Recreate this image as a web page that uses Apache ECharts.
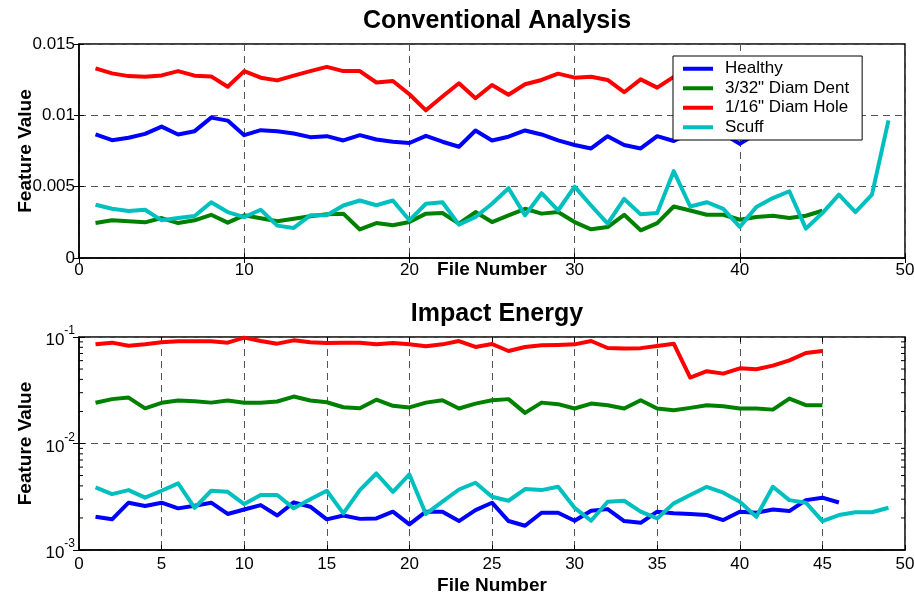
<!DOCTYPE html>
<html><head><meta charset="utf-8">
<script src="https://cdn.jsdelivr.net/npm/echarts@6/dist/echarts.min.js"></script>
<style>html,body{margin:0;padding:0;background:#fff}#c{width:915px;height:599px}</style>
</head><body><div id="c"></div>
<script>
// ---- Data ----
const seriesNames = ['Healthy', '3/32" Diam Dent', '1/16" Diam Hole', 'Scuff'];
const titles = ['Conventional Analysis', 'Impact Energy'];
const xTicksTop = [0, 10, 20, 30, 40, 50];
const xTicksBottom = [0, 5, 10, 15, 20, 25, 30, 35, 40, 45, 50];
const yTicksTop = [0, 0.005, 0.01, 0.015];
const yTicksBottom = [0.001, 0.01, 0.1];
const logMinorTicks = [0.002,0.003,0.004,0.005,0.006,0.007,0.008,0.009,0.02,0.03,0.04,0.05,0.06,0.07,0.08,0.09];

// Conventional Analysis (file numbers start at 1)
const healthyTop = [0.00866,0.00826,0.00843,0.0087,0.00921,0.00866,0.00889,0.00984,0.00963,0.00861,
  0.00896,0.00889,0.00873,0.00847,0.00854,0.00824,0.00861,0.00831,0.00815,0.00806,
  0.00856,0.00815,0.0078,0.00894,0.00824,0.0085,0.00894,0.00866,0.00824,0.00792,
  0.00768,0.00854,0.00792,0.00768,0.00854,0.0082,0.0088,0.0089,0.0087,0.0080,
  0.0087,0.0088,0.0086,0.0088,0.0087,0.0086];
const dentTop = [0.00245,0.00264,0.00257,0.0025,0.0028,0.00245,0.00264,0.00303,0.00248,0.00299,
  0.00278,0.00257,0.00275,0.00292,0.00306,0.00311,0.002,0.00245,0.00229,0.00252,
  0.00311,0.00315,0.00241,0.00322,0.00252,0.00299,0.00345,0.00311,0.00322,0.00252,
  0.00201,0.00217,0.00303,0.00194,0.00245,0.00361,0.00333,0.00303,0.00303,0.00268,
  0.00287,0.00296,0.0028,0.00296,0.00331];
const holeTop = [0.01329,0.01294,0.01275,0.01271,0.0128,0.0131,0.01278,0.01273,0.0120,0.0131,
  0.01264,0.01245,0.01278,0.0131,0.0134,0.0131,0.0131,0.0123,0.01241,0.01148,
  0.01035,0.01132,0.01225,0.0112,0.01213,0.01144,0.01218,0.01248,0.01292,0.01264,
  0.01271,0.01248,0.01162,0.01252,0.01194,0.0127,0.0125,0.0122,0.0127,0.0124,
  0.0121,0.0126,0.0123,0.0125,0.0122];
const scuffTop = [0.00373,0.00345,0.00329,0.00338,0.00264,0.0028,0.00294,0.00391,0.00322,0.00287,
  0.00338,0.00227,0.00211,0.00299,0.00299,0.00368,0.00403,0.0037,0.00403,0.00264,
  0.0038,0.00391,0.00234,0.00287,0.0038,0.00489,0.00299,0.00454,0.00333,0.005,
  0.00368,0.00241,0.00414,0.00306,0.00315,0.00609,0.00361,0.00391,0.00345,0.00218,
  0.00357,0.0042,0.00468,0.00206,0.00315,0.00444,0.00322,0.00444,0.00965];

// Impact Energy
const healthyBot = [0.00205,0.00194,0.00278,0.00259,0.00278,0.00246,0.0026,0.00278,0.00218,0.0024,
  0.00264,0.00211,0.0028,0.00255,0.00194,0.00211,0.00196,0.00198,0.00229,0.00174,
  0.00229,0.00229,0.00187,0.00237,0.00278,0.00187,0.00169,0.00224,0.00224,0.00188,
  0.00234,0.00242,0.00187,0.0018,0.00229,0.00221,0.00218,0.00213,0.00191,0.00229,
  0.00224,0.0024,0.00232,0.00294,0.0031,0.00279];
const dentBot = [0.0241,0.0261,0.027,0.0214,0.0241,0.0253,0.0249,0.0242,0.0253,0.0241,
  0.0241,0.0248,0.0276,0.0253,0.0244,0.0219,0.0214,0.0258,0.0226,0.0218,
  0.0242,0.0255,0.0213,0.0237,0.0255,0.0261,0.0194,0.0242,0.0234,0.0213,
  0.0237,0.0229,0.0213,0.0255,0.0213,0.0205,0.0216,0.0229,0.0224,0.0213,
  0.0213,0.0208,0.0264,0.0229,0.0229];
const holeBot = [0.0853,0.0885,0.0829,0.0853,0.0891,0.091,0.091,0.091,0.0885,0.0986,
  0.0917,0.0866,0.093,0.0891,0.0878,0.0885,0.0885,0.0853,0.0878,0.0853,
  0.0818,0.0853,0.0917,0.0806,0.086,0.0739,0.0806,0.0835,0.0841,0.0853,
  0.0917,0.0788,0.0778,0.0786,0.0823,0.0866,0.0416,0.0477,0.0453,0.0508,
  0.0498,0.0539,0.0604,0.0708,0.0739];
const scuffBot = [0.00387,0.00335,0.00365,0.0031,0.0036,0.00422,0.00249,0.0036,0.00352,0.0027,
  0.00328,0.00328,0.00246,0.00299,0.0036,0.00221,0.00365,0.00523,0.00352,0.00512,
  0.00218,0.00284,0.0037,0.00428,0.00316,0.0029,0.00373,0.00365,0.00392,0.00249,
  0.00188,0.00284,0.0029,0.00229,0.00198,0.00274,0.00328,0.00392,0.00345,0.00284,
  0.00205,0.00392,0.00294,0.00278,0.00187,0.00213,0.00226,0.00226,0.00249];

// ---- Chart ----
const FONT = '"Liberation Sans", Arial, Helvetica, sans-serif';
const colors = ['#0000ff', '#008000', '#ff0000', '#00bfbf'];
const pairs = arr => arr.map((v, i) => [i + 1, v]);
const dash = { color: '#555', width: 1, type: [7, 5] };

function lineSeries(name, data, idx, gi) {
  return { name, type: 'line', xAxisIndex: gi * 2, yAxisIndex: gi * 2, data: pairs(data),
    showSymbol: false, symbol: 'none', color: colors[idx],
    lineStyle: { width: 4, color: colors[idx], join: 'round' }, animation: false };
}

const G = [{ left: 79, width: 826, top: 44, height: 214 },
           { left: 79, width: 826, top: 337, height: 213 }];

const labelStyle = { color: '#000', fontSize: 17, fontFamily: FONT };
const nameStyle = { color: '#000', fontSize: 19, fontWeight: 'bold', fontFamily: FONT };

function xMain(gi, ticks, labelMargin, nameGap, moveOverlap) {
  return { type: 'value', gridIndex: gi, min: ticks[0], max: ticks[ticks.length - 1],
    interval: ticks[1] - ticks[0], position: 'bottom',
    name: 'File Number', nameLocation: 'middle', nameGap: nameGap, nameTextStyle: nameStyle,
    nameMoveOverlap: moveOverlap,
    axisLine: { show: true, lineStyle: { color: '#000', width: 1.5 } },
    axisTick: { show: true, inside: true, length: 5, lineStyle: { color: '#000' } },
    axisLabel: Object.assign({ margin: labelMargin }, labelStyle),
    splitLine: { show: true, lineStyle: dash } };
}
function xTop(gi, ticks) {
  return { type: 'value', gridIndex: gi, min: ticks[0], max: ticks[ticks.length - 1],
    interval: ticks[1] - ticks[0], position: 'top',
    axisLine: { show: false }, axisLabel: { show: false }, splitLine: { show: false },
    axisTick: { show: true, inside: true, length: 5, lineStyle: { color: '#000' } } };
}

const option = {
  backgroundColor: '#fff',
  animation: false,
  title: [
    { text: titles[0], left: 492, top: 4, textAlign: 'center',
      textStyle: { fontSize: 25, fontWeight: 'bold', color: '#000', fontFamily: FONT } },
    { text: titles[1], left: 492, top: 297, textAlign: 'center',
      textStyle: { fontSize: 25, fontWeight: 'bold', color: '#000', fontFamily: FONT } }
  ],
  legend: {
    data: seriesNames, orient: 'vertical', left: 673, top: 56,
    padding: [4, 13, 4, 10], itemGap: 2, itemWidth: 30, itemHeight: 4,
    icon: 'rect', backgroundColor: '#fff', borderColor: '#000', borderWidth: 1,
    textStyle: { fontSize: 17, color: '#000', fontFamily: FONT, lineHeight: 17.5, padding: [0, 0, 0, 7] }, z: 10
  },
  grid: G.map(g => Object.assign({ show: true, borderColor: '#000', borderWidth: 1.5, backgroundColor: '#fff',
    outerBoundsMode: 'none', containLabel: false }, g)),
  xAxis: [ xMain(0, xTicksTop, 4, 2, false), xTop(0, xTicksTop), xMain(1, xTicksBottom, 6, 26, true), xTop(1, xTicksBottom) ],
  yAxis: [
    { type: 'value', gridIndex: 0, min: yTicksTop[0], max: yTicksTop[yTicksTop.length - 1],
      interval: yTicksTop[1] - yTicksTop[0],
      name: 'Feature Value', nameLocation: 'middle', nameGap: 44, nameTextStyle: nameStyle, nameMoveOverlap: false,
      axisLine: { show: true, lineStyle: { color: '#000', width: 1.5 } },
      axisTick: { show: true, inside: true, length: 5, lineStyle: { color: '#000' } },
      axisLabel: Object.assign({ margin: 4, formatter: v => String(+v.toFixed(4)) }, labelStyle),
      splitLine: { show: true, lineStyle: dash } },
    { type: 'value', gridIndex: 0, position: 'right', min: yTicksTop[0], max: yTicksTop[yTicksTop.length - 1],
      interval: yTicksTop[1] - yTicksTop[0],
      axisLine: { show: false }, axisLabel: { show: false }, splitLine: { show: false },
      axisTick: { show: true, inside: true, length: 5, lineStyle: { color: '#000' } } },
    { type: 'log', logBase: 10, gridIndex: 1, min: yTicksBottom[0], max: yTicksBottom[yTicksBottom.length - 1],
      name: 'Feature Value', nameLocation: 'middle', nameGap: 44, nameTextStyle: nameStyle, nameMoveOverlap: false,
      axisLine: { show: true, lineStyle: { color: '#000', width: 1.5 } },
      axisTick: { show: true, inside: true, length: 6, lineStyle: { color: '#000' } },
      axisLabel: { margin: 4, color: '#000', fontFamily: FONT,
        formatter: v => '{b|10}{s|' + Math.round(Math.log10(v)) + '}',
        rich: { b: { fontSize: 17, fontFamily: FONT, color: '#000', lineHeight: 24, verticalAlign: 'bottom' },
                s: { fontSize: 12, fontFamily: FONT, color: '#000', verticalAlign: 'top', lineHeight: 24 } } },
      splitLine: { show: true, lineStyle: dash } },
    { type: 'log', logBase: 10, gridIndex: 1, position: 'right', min: yTicksBottom[0], max: yTicksBottom[yTicksBottom.length - 1],
      axisLine: { show: false }, axisLabel: { show: false }, splitLine: { show: false },
      axisTick: { show: true, inside: true, length: 6, lineStyle: { color: '#000' } } }
  ],
  series: [
    lineSeries(seriesNames[0], healthyTop, 0, 0),
    lineSeries(seriesNames[1], dentTop, 1, 0),
    lineSeries(seriesNames[2], holeTop, 2, 0),
    lineSeries(seriesNames[3], scuffTop, 3, 0),
    lineSeries(seriesNames[0], healthyBot, 0, 1),
    lineSeries(seriesNames[1], dentBot, 1, 1),
    lineSeries(seriesNames[2], holeBot, 2, 1),
    lineSeries(seriesNames[3], scuffBot, 3, 1),
    { type: 'custom', name: 'minorTicks', xAxisIndex: 2, yAxisIndex: 2, silent: true,
      data: logMinorTicks.map(v => [0, v]), encode: { x: 0, y: 1 },
      renderItem: function (params, api) {
        const y = api.coord([0, api.value(1)])[1];
        const cs = params.coordSys;
        return { type: 'group', children: [
          { type: 'line', shape: { x1: cs.x, y1: y, x2: cs.x + 4, y2: y }, style: { stroke: '#000', lineWidth: 1 } },
          { type: 'line', shape: { x1: cs.x + cs.width - 4, y1: y, x2: cs.x + cs.width, y2: y }, style: { stroke: '#000', lineWidth: 1 } }
        ] };
      } }
  ]
};
const chart = echarts.init(document.getElementById('c'), null, { renderer: 'canvas' });
chart.setOption(option);
</script></body></html>
